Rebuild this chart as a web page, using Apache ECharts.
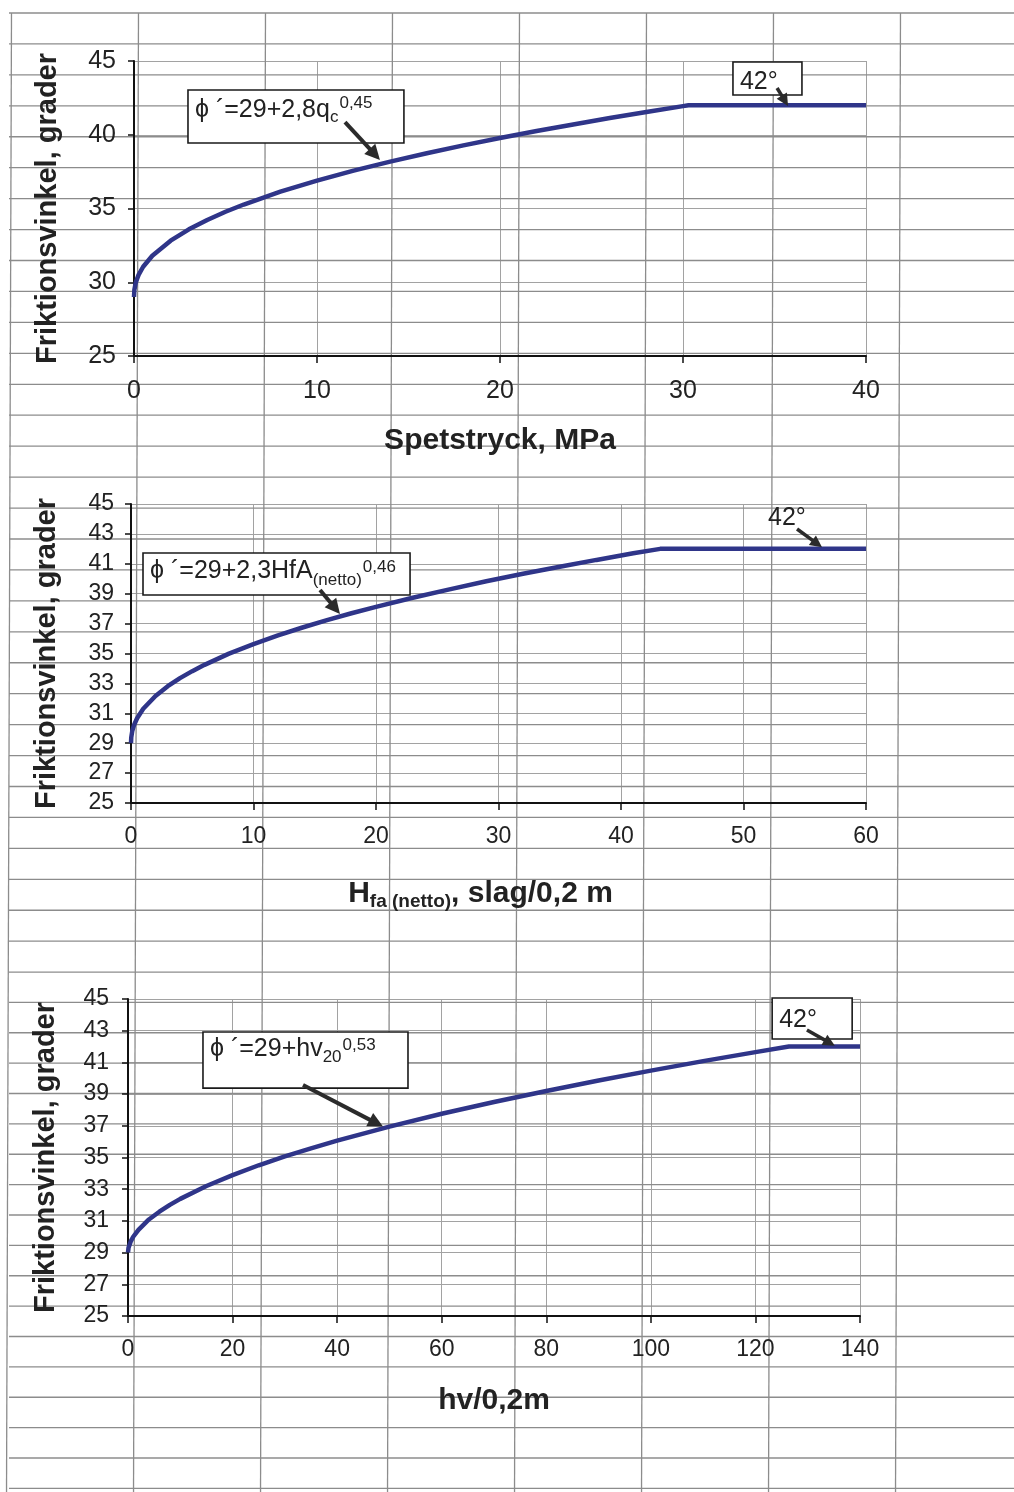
<!DOCTYPE html>
<html>
<head>
<meta charset="utf-8">
<script src="https://cdn.jsdelivr.net/npm/echarts@6/dist/echarts.min.js"></script>
<style>
  html, body { margin: 0; padding: 0; background: #fff; }
  #main { width: 1014px; height: 1492px; }
</style>
</head>
<body>
<div id="main"></div>
<script>
// Friction angle (grader) against cone resistance qc (MPa)
const qcValues = [0, 0.02, 0.1, 0.25, 0.5, 1, 2, 3, 4, 5, 6, 8, 10, 12, 14, 16, 18, 20, 22, 24, 26, 28, 30, 30.3, 40];
const qcPhi    = [29.0, 29.48, 30.0, 30.5, 31.05, 31.8, 32.82, 33.59, 34.22, 34.78, 35.27, 36.14, 36.89, 37.57, 38.18, 38.75, 39.28, 39.78, 40.25, 40.70, 41.13, 41.54, 41.94, 42.0, 42.0];

// Friction angle against net ram sounding resistance Hfa (slag/0,2 m)
const hfaValues = [0, 0.02, 0.1, 0.25, 0.5, 1, 2, 3, 4, 5, 6, 8, 10, 12, 14, 16, 18, 20, 23, 26, 29, 32, 35, 38, 41, 43.2, 60];
const hfaPhi    = [29.0, 29.38, 29.80, 30.22, 30.67, 31.30, 32.16, 32.81, 33.35, 33.82, 34.24, 34.99, 35.63, 36.21, 36.74, 37.23, 37.69, 38.12, 38.73, 39.29, 39.83, 40.33, 40.80, 41.26, 41.70, 42.0, 42.0];

// Friction angle against weight sounding resistance hv (hv/0,2m)
const hvValues = [0, 0.1, 0.5, 1, 2, 4, 6, 8, 10, 15, 20, 25, 30, 35, 40, 50, 60, 70, 80, 90, 100, 110, 120, 126.4, 140];
const hvPhi    = [29.0, 29.30, 29.69, 30.0, 30.44, 31.09, 31.58, 32.01, 32.39, 33.20, 33.89, 34.51, 35.07, 35.58, 36.06, 36.95, 37.76, 38.50, 39.20, 39.86, 40.48, 41.08, 41.65, 42.0, 42.0];

// Tick labels
const qcTicks   = [0, 10, 20, 30, 40];
const hfaTicks  = [0, 10, 20, 30, 40, 50, 60];
const hvTicks   = [0, 20, 40, 60, 80, 100, 120, 140];
const phiTicks5 = [25, 30, 35, 40, 45];
const phiTicks2 = [25, 27, 29, 31, 33, 35, 37, 39, 41, 43, 45];

const FONT = '"Liberation Sans", Arial, Helvetica, "DejaVu Sans", sans-serif';
const TEXT = '#222';
const CURVE = '#2f3589';
const GRIDLINE = '#a2a2a2';
const SHEETLINE = '#8c8c8c';
const Y_NAME = 'Friktionsvinkel, grader';

const grids = [
  { left: 134, top: 61,  width: 732, height: 295 },
  { left: 131, top: 504, width: 735, height: 299 },
  { left: 128, top: 999, width: 732, height: 317 }
];

function xAxis(idx, ticks, name, o) {
  return {
    type: 'value', gridIndex: idx,
    min: ticks[0], max: ticks[ticks.length - 1], interval: ticks[1] - ticks[0],
    axisLine: { show: true, onZero: false, lineStyle: { color: '#111', width: 2 } },
    axisTick: { show: true, inside: false, length: 7, lineStyle: { color: '#111', width: 1.5 } },
    axisLabel: { fontSize: o.labelSize, color: TEXT, fontFamily: FONT, margin: o.labelMargin },
    splitLine: { show: true, lineStyle: { color: GRIDLINE, width: 1 } },
    name: name, nameLocation: 'middle', nameGap: o.nameGap,
    nameTextStyle: Object.assign({ fontSize: 30, fontWeight: 'bold', color: TEXT, fontFamily: FONT }, o.nameStyle || {})
  };
}

function yAxis(idx, ticks, o) {
  return {
    type: 'value', gridIndex: idx,
    min: ticks[0], max: ticks[ticks.length - 1], interval: ticks[1] - ticks[0],
    axisLine: { show: true, onZero: false, lineStyle: { color: '#111', width: 2 } },
    axisTick: { show: true, inside: false, length: 6, lineStyle: { color: '#111', width: 1.5 } },
    axisLabel: { fontSize: o.labelSize, color: TEXT, fontFamily: FONT, margin: o.labelMargin },
    splitLine: { show: true, lineStyle: { color: GRIDLINE, width: 1 } },
    name: Y_NAME, nameLocation: 'middle', nameRotate: 90, nameGap: o.nameGap,
    nameTextStyle: { fontSize: 29, fontWeight: 'bold', color: TEXT, fontFamily: FONT }
  };
}

function zip(xs, ys) { return xs.map((x, i) => [x, ys[i]]); }

function curve(idx, xs, ys) {
  return {
    type: 'line', xAxisIndex: idx, yAxisIndex: idx,
    data: zip(xs, ys), showSymbol: false, smooth: false, z: 5,
    lineStyle: { color: CURVE, width: 4.5 }, animation: false
  };
}

const chart = echarts.init(document.getElementById('main'));

chart.setOption({
  animation: false,
  backgroundColor: '#fff',
  grid: grids,
  xAxis: [
    xAxis(0, qcTicks, 'Spetstryck, MPa', { labelSize: 25, labelMargin: 23, nameGap: 70 }),
    xAxis(1, hfaTicks, '{b|H}{s|fa (netto)}{b|, slag/0,2 m}', {
      labelSize: 23, labelMargin: 22, nameGap: 74,
      nameStyle: {
        padding: [0, 36, 0, 0],
        rich: {
          b: { fontSize: 30, fontWeight: 'bold', color: TEXT, fontFamily: FONT, lineHeight: 34 },
          s: { fontSize: 19, fontWeight: 'bold', color: TEXT, fontFamily: FONT, lineHeight: 19, verticalAlign: 'bottom' }
        }
      }
    }),
    xAxis(2, hvTicks, 'hv/0,2m', { labelSize: 23, labelMargin: 22, nameGap: 70 })
  ],
  yAxis: [
    yAxis(0, phiTicks5, { labelSize: 25, labelMargin: 18, nameGap: 72 }),
    yAxis(1, phiTicks2, { labelSize: 23, labelMargin: 17, nameGap: 70 }),
    yAxis(2, phiTicks2, { labelSize: 23, labelMargin: 19, nameGap: 68 })
  ],
  series: [
    curve(0, qcValues, qcPhi),
    curve(1, hfaValues, hfaPhi),
    curve(2, hvValues, hvPhi)
  ]
});

// ---- Worksheet cell lines behind the charts ----
const sheet = [];
for (let k = 0; k <= 48; k++) {
  const y = k <= 31 ? 13 + 30.94 * k : 972 + 30.375 * (k - 31);
  sheet.push({ type: 'line', silent: true, z: 0,
    shape: { x1: 9, y1: y, x2: 1014, y2: y },
    style: { stroke: SHEETLINE, lineWidth: 1.3 } });
}
for (let i = 0; i <= 7; i++) {
  const x = 11.5 + 127 * i;
  sheet.push({ type: 'line', silent: true, z: 0,
    shape: { x1: x, y1: 13, x2: x - 5, y2: 1492 },
    style: { stroke: SHEETLINE, lineWidth: 1.3 } });
}

// ---- Formula and limit annotations, placed in data coordinates ----
const PHI = 'ϕ ´';
const annotations = [
  { grid: 0, box: [[2.95, 43.03], [14.75, 39.44]], main: PHI + '=29+2,8q', sub: 'c', sup: '0,45',
    off: [20, 27, 13], arrow: [[11.53, 40.86], [13.44, 38.29]] },
  { grid: 0, box: [[32.73, 44.93], [36.5, 42.69]], main: '42°', off: [20],
    arrow: [[35.14, 43.17], [35.74, 41.95]] },
  { grid: 1, box: [[0.98, 41.72], [22.78, 38.91]], main: PHI + '=29+2,3HfA', sub: '(netto)', sup: '0,46',
    off: [18, 27, 14], arrow: [[15.43, 39.25], [17.06, 37.64]] },
  { grid: 1, at: [52.0, 44.06], main: '42°',
    arrow: [[54.37, 43.33], [56.41, 42.1]] },
  { grid: 2, box: [[14.34, 42.92], [53.55, 39.38]], main: PHI + '=29+hv', sub: '20', sup: '0,53',
    off: [17, 25, 13], arrow: [[33.47, 39.57], [48.77, 36.95]] },
  { grid: 2, box: [[123.2, 45.06], [138.5, 42.48]], main: '42°', off: [22],
    arrow: [[129.85, 43.04], [135.2, 42.05]] }
];

const measureCtx = document.createElement('canvas').getContext('2d');
function textWidth(str, size) {
  measureCtx.font = size + 'px ' + FONT;
  return measureCtx.measureText(str).width;
}
function txt(str, x, y, size) {
  return { type: 'text', x: x, y: y, z: 12, silent: true,
    style: { text: str, font: size + 'px ' + FONT, fill: TEXT,
      textAlign: 'left', textVerticalAlign: 'middle', align: 'left', verticalAlign: 'middle' } };
}
function arrowShapes(p0, p1, w, head) {
  const dx = p1[0] - p0[0], dy = p1[1] - p0[1];
  const L = Math.hypot(dx, dy), ux = dx / L, uy = dy / L;
  const bx = p1[0] - ux * head, by = p1[1] - uy * head;
  const hw = head * 0.5;
  return [
    { type: 'line', z: 13, silent: true, shape: { x1: p0[0], y1: p0[1], x2: bx + ux * 2, y2: by + uy * 2 },
      style: { stroke: '#2b2b2b', lineWidth: w } },
    { type: 'polygon', z: 13, silent: true,
      shape: { points: [[p1[0], p1[1]], [bx - uy * hw, by + ux * hw], [bx + uy * hw, by - ux * hw]] },
      style: { fill: '#2b2b2b' } }
  ];
}

const marks = [];
annotations.forEach(a => {
  const MAIN = 25, SMALL = 17;
  if (a.box) {
    const tl = chart.convertToPixel({ gridIndex: a.grid }, a.box[0]);
    const br = chart.convertToPixel({ gridIndex: a.grid }, a.box[1]);
    marks.push({ type: 'rect', z: 11, silent: true,
      shape: { x: tl[0], y: tl[1], width: br[0] - tl[0], height: br[1] - tl[1] },
      style: { fill: '#fff', stroke: '#1a1a1a', lineWidth: 1.6 } });
    const x0 = tl[0] + 7;
    marks.push(txt(a.main, x0, tl[1] + a.off[0], MAIN));
    if (a.sub) {
      const xs = x0 + textWidth(a.main, MAIN);
      marks.push(txt(a.sub, xs, tl[1] + a.off[1], SMALL));
      const xp = xs + textWidth(a.sub, SMALL) + 1;
      marks.push(txt(a.sup, xp, tl[1] + a.off[2], SMALL));
    }
  } else {
    const p = chart.convertToPixel({ gridIndex: a.grid }, a.at);
    marks.push(txt(a.main, p[0], p[1], MAIN));
  }
  const p0 = chart.convertToPixel({ gridIndex: a.grid }, a.arrow[0]);
  const p1 = chart.convertToPixel({ gridIndex: a.grid }, a.arrow[1]);
  const big = a.sub ? 1 : 0;
  marks.push(...arrowShapes(p0, p1, big ? 4 : 3.5, big ? 15 : 12));
});

chart.setOption({ graphic: { elements: sheet.concat(marks) } });
</script>
</body>
</html>
